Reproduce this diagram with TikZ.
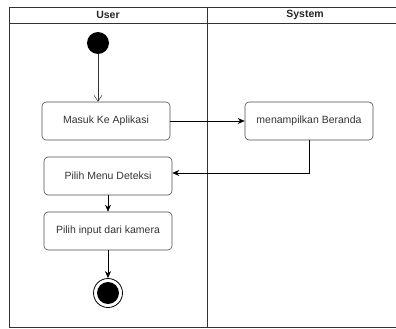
\documentclass[tikz,border=0pt]{standalone}
\usepackage{fontspec}
\setmainfont{Liberation Sans}
\usetikzlibrary{arrows.meta}
\tikzset{
  act/.style={draw=black!70,line width=0.6pt,rounded corners=4pt,minimum width=128pt,minimum height=38pt,text=black!80,font=\fontsize{10.5}{12}\selectfont},
  lane/.style={text=black!85,font=\bfseries\fontsize{10.5}{12}\selectfont},
  flow/.style={-{Stealth[length=7pt,width=6pt]},line width=0.6pt}
}
\begin{document}
\begin{tikzpicture}[x=1pt,y=-1pt]
\useasboundingbox (0,0) rectangle (396,329);
% swimlanes
\draw[line width=0.7pt,black!80] (396,7) -- (9,7) -- (9,327) -- (396,327)
    (9,23) -- (396,23) (207,7) -- (207,327);
\path
    (108,15) node [lane] (user) {User}
    (305,15) node [lane] (sys) {System};
% actions
\path
    (98,43) node [circle,fill=black,minimum size=22pt,inner sep=0pt] (start) {}
    (106,121) node [act] (masuk) {Masuk Ke Aplikasi}
    (309,121) node [act] (beranda) {menampilkan Beranda}
    (108,176) node [act] (menu) {Pilih Menu Deteksi}
    (108,231) node [act] (kamera) {Pilih input dari kamera}
    (108,293) node [circle,draw,line width=0.8pt,minimum size=29pt,inner sep=0pt] (stop) {};
\fill (stop.center) circle (11);
\draw [-{Straight Barb[length=6pt,width=8pt]},line width=0.5pt,black!80] (start) -- (start |- masuk.north);
\draw [flow] (masuk.east) -- (beranda.west);
\draw [flow] (beranda.south) |- ([yshift=3pt]menu.east);
\draw [flow] (menu.south) -- (kamera.north);
\draw [flow] (kamera.south) -- (stop.north);
\end{tikzpicture}
\end{document}
